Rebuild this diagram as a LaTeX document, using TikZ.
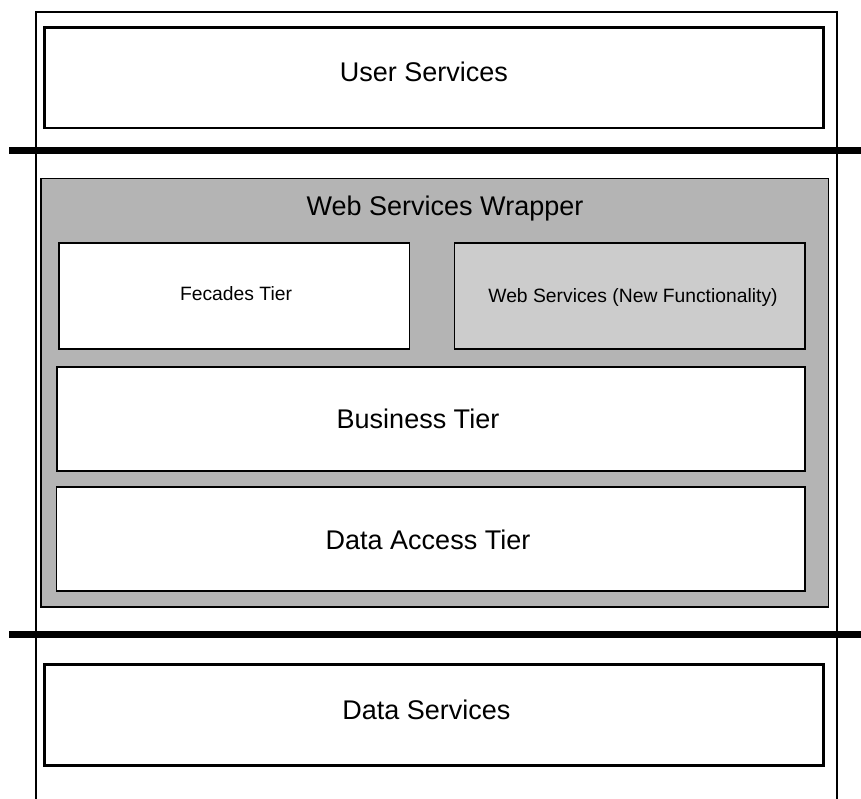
\documentclass[tikz,border=0pt]{standalone}
\usepackage{fontspec}
\setmainfont{Liberation Sans}
\definecolor{wrapgray}{RGB}{180,180,180}
\definecolor{newgray}{RGB}{204,204,204}
\begin{document}
\begin{tikzpicture}[
  x=1pt, y=-1pt,
  every node/.style={rectangle, inner sep=0pt, font=\fontsize{27}{32}\selectfont},
  layer/.style={draw, line width=2.7pt, fill=white, minimum width=779pt, minimum height=100.5pt},
  tier/.style={draw, line width=1.7pt, fill=white},
  small/.style={font=\fontsize{19.3}{23}\selectfont},
  caption/.style={anchor=base},
  separator/.style={draw, line width=7pt}
]
\useasboundingbox (0,0) rectangle (861,798);
\draw[line width=2.5pt] (36,12) rectangle (837,840);
% user layer
\node[layer] (user) at (434.2,77.75) {};
\node[caption] (usertext) at (424,81) {User Services};
\draw[separator] (9,150.3) -- (861,150.3);
% wrapper with its tiers
\node[draw, line width=1.2pt, fill=wrapgray, minimum width=787.5pt, minimum height=428.5pt] (wrapper) at (434.75,392.75) {};
\node[caption] (wrappertext) at (445,215.5) {Web Services Wrapper};
\node[tier, minimum width=350.7pt, minimum height=106pt] (fecades) at (234.15,296) {};
\node[caption, small] (fecadestext) at (236,300) {Fecades Tier};
\node[tier, fill=newgray, minimum width=350.5pt, minimum height=106pt] (websvc) at (629.75,296) {};
\node[caption, small] (websvctext) at (633,302) {Web Services (New Functionality)};
\node[tier, minimum width=748.3pt, minimum height=104pt] (business) at (431.15,419) {};
\node[caption] (businesstext) at (418,428) {Business Tier};
\node[tier, minimum width=748.8pt, minimum height=104.3pt] (dataaccess) at (430.9,539.15) {};
\node[caption] (dataaccesstext) at (428,549) {Data Access Tier};
\draw[separator] (9,634) -- (861,634);
% data layer
\node[layer] (data) at (433.85,715) {};
\node[caption] (datatext) at (426.5,719) {Data Services};
\end{tikzpicture}
\end{document}
